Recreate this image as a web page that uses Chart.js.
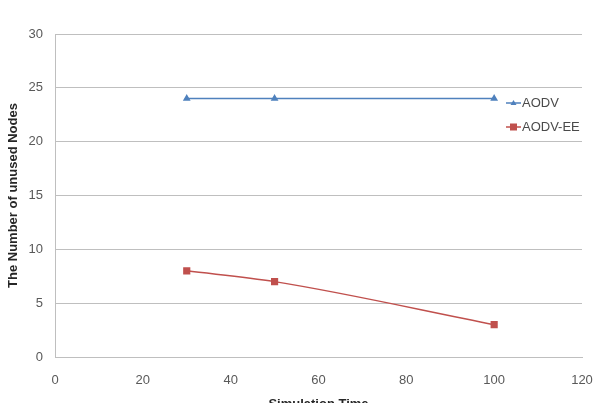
<!DOCTYPE html>
<html>
<head>
<meta charset="utf-8">
<script src="https://cdn.jsdelivr.net/npm/chart.js@4"></script>
<style>
  html, body { margin: 0; padding: 0; background: #fff; }
</style>
</head>
<body>
<canvas id="chart" width="593" height="403"></canvas>
<script>
// data
var simTime = [30, 50, 100];
var aodv = [24, 24, 24];
var aodvEE = [8, 7, 3];
var xTicks = [0, 20, 40, 60, 80, 100, 120];
var yTicks = [0, 5, 10, 15, 20, 25, 30];

function pts(xs, ys) {
	var out = [];
	for (var i in xs) out.push({x: xs[i], y: ys[i]});
	return out;
}

// legend drawn inside the plot, like the excel original
var legendPlugin = {
	id: 'innerLegend',
	afterDraw: function(chart) {
		var ctx = chart.ctx;
		var items = [
			{label: 'AODV', color: '#4f81bd', shape: 'triangle', y: 103},
			{label: 'AODV-EE', color: '#c0504d', shape: 'rect', y: 127}
		];
		ctx.save();
		items.forEach(function(it) {
			ctx.strokeStyle = it.color;
			ctx.lineWidth = 1.5;
			ctx.beginPath();
			ctx.moveTo(506, it.y);
			ctx.lineTo(521, it.y);
			ctx.stroke();
			ctx.fillStyle = it.color;
			if (it.shape == 'rect') {
				ctx.fillRect(510, it.y - 3.5, 7, 7);
			} else {
				ctx.beginPath();
				ctx.moveTo(513.5, it.y - 3);
				ctx.lineTo(516.5, it.y + 2);
				ctx.lineTo(510.5, it.y + 2);
				ctx.closePath();
				ctx.fill();
			}
			ctx.fillStyle = '#4a4a4a';
			ctx.font = '13px "Liberation Sans", Arial, sans-serif';
			ctx.textBaseline = 'middle';
			ctx.fillText(it.label, 522, it.y);
		});
		ctx.restore();
	}
};

var ctx = document.getElementById('chart').getContext('2d');
var chart = new Chart(ctx, {
	type: 'scatter',
	data: {
		datasets: [
			{
				label: 'AODV',
				data: pts(simTime, aodv),
				showLine: true,
				borderColor: '#4f81bd',
				backgroundColor: '#4f81bd',
				borderWidth: 1.5,
				pointStyle: 'triangle',
				pointRadius: 3,
				tension: 0
			},
			{
				label: 'AODV-EE',
				data: pts(simTime, aodvEE),
				showLine: true,
				borderColor: '#c0504d',
				backgroundColor: '#c0504d',
				borderWidth: 1.5,
				pointStyle: 'rect',
				pointRadius: 4,
				cubicInterpolationMode: 'monotone'
			}
		]
	},
	options: {
		responsive: false,
		animation: false,
		layout: { padding: { top: 34, right: 11, left: 0, bottom: 0 } },
		plugins: {
			legend: { display: false },
			tooltip: { enabled: false }
		},
		scales: {
			x: {
				type: 'linear',
				min: 0, max: 120,
				afterBuildTicks: function(s) { s.ticks = xTicks.map(function(v) { return {value: v}; }); },
				afterFit: function(s) { s.height = 46; s.paddingLeft = 0; s.paddingRight = 0; },
				grid: { display: false, drawTicks: false },
				border: { color: '#bfbfbf', width: 1 },
				ticks: { color: '#595959', padding: 16, maxRotation: 0, autoSkip: false, font: { size: 13, family: '"Liberation Sans", Arial' } },
				title: { display: true, text: 'Simulation Time', color: '#262626', padding: { top: 0, bottom: -9 },
					font: { size: 13, weight: 'bold', family: '"Liberation Sans", Arial' } }
			},
			y: {
				min: 0, max: 30,
				afterBuildTicks: function(s) { s.ticks = yTicks.map(function(v) { return {value: v}; }); },
				afterFit: function(s) { s.width = 55; s.paddingTop = 0; s.paddingBottom = 0; },
				grid: { color: '#bfbfbf', lineWidth: 1, drawTicks: false },
				border: { color: '#bfbfbf', width: 1 },
				ticks: { color: '#595959', padding: 12, autoSkip: false, font: { size: 13, family: '"Liberation Sans", Arial' } },
				title: { display: true, text: 'The Number of unused Nodes', color: '#262626', padding: { top: 6, bottom: 0 },
					font: { size: 13, weight: 'bold', family: '"Liberation Sans", Arial' } }
			}
		}
	},
	plugins: [legendPlugin]
});
</script>
</body>
</html>
